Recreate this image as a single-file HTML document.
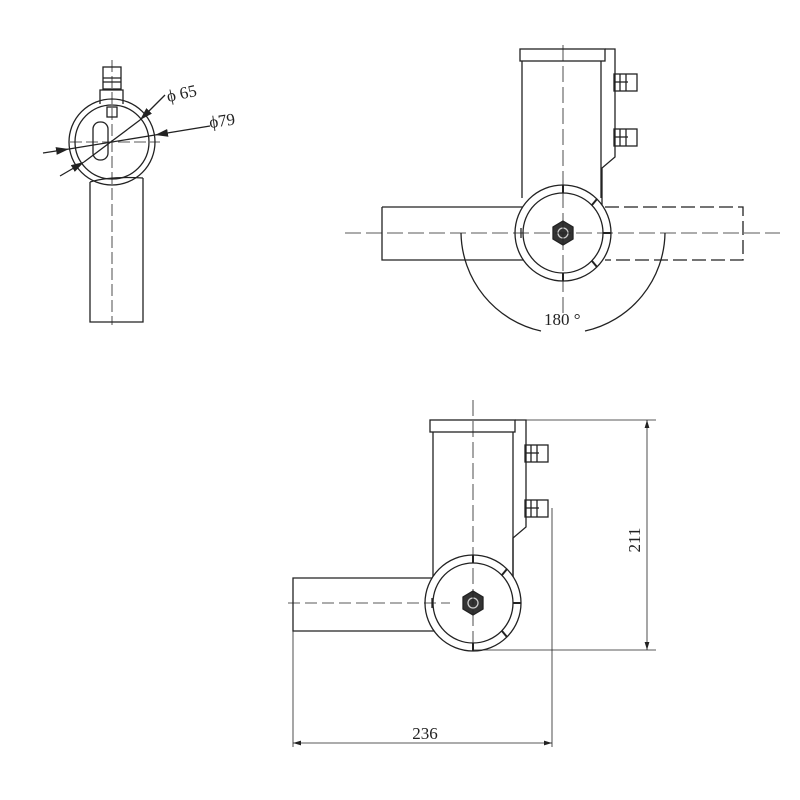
<!DOCTYPE html>
<html><head><meta charset="utf-8"><style>body{margin:0;background:#fff}svg{display:block}</style></head><body>
<svg width="800" height="800" viewBox="0 0 800 800" xmlns="http://www.w3.org/2000/svg" font-family="Liberation Serif, serif" fill="none" stroke="#222" stroke-width="1.3">
<defs><marker id="a" markerWidth="10" markerHeight="6" refX="10" refY="3" orient="auto-start-reverse"><path d="M0,0 L10,3 L0,6 z" fill="#222" stroke="none"/></marker></defs>
<!-- LEFT VIEW -->
<g>
<rect x="103" y="67" width="18" height="22"/><line x1="103" y1="78" x2="121" y2="78"/><line x1="103" y1="82" x2="121" y2="82"/>
<path d="M100,104 L100,90 L123,90 L123,104"/>
<circle cx="112" cy="142" r="43"/><circle cx="112" cy="142" r="37"/>
<rect x="93" y="122" width="15" height="38" rx="7"/>
<rect x="107" y="107" width="10" height="10"/>
<path d="M90,182 L90,322 L143,322 L143,178 M90,182 Q110,176 143,178" />
<line x1="112" y1="60" x2="112" y2="325" stroke-dasharray="12,4" stroke-width="0.8"/>
<line x1="70" y1="142" x2="160" y2="142" stroke-dasharray="12,4" stroke-width="0.8"/>
<line x1="60" y1="176" x2="84" y2="162" marker-end="url(#a)"/>
<line x1="84" y1="162" x2="140" y2="120" />
<line x1="165" y1="95" x2="140" y2="120" marker-end="url(#a)"/>
<line x1="43" y1="153" x2="69" y2="149" marker-end="url(#a)"/>
<line x1="69" y1="149" x2="155" y2="135"/>
<line x1="210" y1="126" x2="155" y2="135" marker-end="url(#a)"/>
<text x="168" y="102" font-size="17" fill="#222" stroke="none" transform="rotate(-12 168 102)">ϕ 65</text>
<text x="210" y="128" font-size="17" fill="#222" stroke="none" transform="rotate(-8 210 128)">ϕ79</text>
</g>
<!-- TOP RIGHT VIEW -->
<g>
<rect x="520" y="49" width="85" height="12"/>
<path d="M605,49 L615,49 L615,157 L602,168 L602,207"/>
<line x1="522" y1="61" x2="522" y2="198"/><line x1="601" y1="61" x2="601" y2="198"/>
<rect x="614" y="74" width="23" height="17"/><line x1="620" y1="74" x2="620" y2="91"/><line x1="626" y1="74" x2="626" y2="91"/><line x1="614" y1="82" x2="628" y2="82"/>
<rect x="614" y="129" width="23" height="17"/><line x1="620" y1="129" x2="620" y2="146"/><line x1="626" y1="129" x2="626" y2="146"/><line x1="614" y1="137" x2="628" y2="137"/>
<path d="M382,207 L524,207 M382,207 L382,260 L524,260"/>
<path d="M605,207 L743,207 L743,260 L605,260" stroke-dasharray="14,5"/>
<circle cx="563" cy="233" r="48" fill="#fff"/><circle cx="563" cy="233" r="40"/>
<line x1="563" y1="185" x2="563" y2="193" stroke-width="2"/><line x1="563" y1="273" x2="563" y2="281" stroke-width="2"/>
<line x1="597" y1="199" x2="592" y2="205" stroke-width="2"/><line x1="597" y1="267" x2="592" y2="261" stroke-width="2"/>
<line x1="603" y1="233" x2="611" y2="233" stroke-width="2"/>
<path d="M521,228 L521,238"/>
<polygon points="563,221 573,227 573,239 563,245 553,239 553,227" fill="#333"/><circle cx="563" cy="233" r="5" stroke="#ccc"/>
<line x1="345" y1="233" x2="780" y2="233" stroke-dasharray="16,5" stroke-width="0.8"/>
<line x1="563" y1="45" x2="563" y2="318" stroke-dasharray="16,5" stroke-width="0.8"/>
<path d="M461,233 A102,102 0 0 0 541,331 M585,331 A102,102 0 0 0 665,233"/>
<text x="544" y="325" font-size="17" fill="#222" stroke="none">180 °</text>
</g>
<!-- BOTTOM VIEW -->
<g>
<rect x="430" y="420" width="85" height="12"/>
<path d="M515,420 L526,420 L526,527 L513,538 L513,577"/>
<line x1="433" y1="432" x2="433" y2="577"/><line x1="513" y1="432" x2="513" y2="577"/>
<rect x="525" y="445" width="23" height="17"/><line x1="531" y1="445" x2="531" y2="462"/><line x1="537" y1="445" x2="537" y2="462"/><line x1="525" y1="453" x2="539" y2="453"/>
<rect x="525" y="500" width="23" height="17"/><line x1="531" y1="500" x2="531" y2="517"/><line x1="537" y1="500" x2="537" y2="517"/><line x1="525" y1="508" x2="539" y2="508"/>
<path d="M434,578 L293,578 L293,631 L434,631"/>
<circle cx="473" cy="603" r="48" fill="#fff"/><circle cx="473" cy="603" r="40"/>
<line x1="473" y1="555" x2="473" y2="563" stroke-width="2"/><line x1="473" y1="643" x2="473" y2="651" stroke-width="2"/>
<line x1="507" y1="569" x2="502" y2="575" stroke-width="2"/><line x1="507" y1="637" x2="502" y2="631" stroke-width="2"/>
<line x1="513" y1="603" x2="521" y2="603" stroke-width="2"/>
<path d="M432,598 L432,608"/>
<polygon points="473,591 483,597 483,609 473,615 463,609 463,597" fill="#333"/><circle cx="473" cy="603" r="5" stroke="#ccc"/>
<line x1="473" y1="400" x2="473" y2="645" stroke-dasharray="16,5" stroke-width="0.8"/>
<line x1="288" y1="603" x2="450" y2="603" stroke-dasharray="12,5" stroke-width="0.8"/>
<line x1="526" y1="420" x2="656" y2="420" stroke-width="0.8"/>
<line x1="473" y1="650" x2="656" y2="650" stroke-width="0.8"/>
<line x1="647" y1="420" x2="647" y2="650" marker-start="url(#a)" marker-end="url(#a)" stroke-width="0.8"/>
<text x="640" y="540" font-size="17" fill="#222" stroke="none" text-anchor="middle" transform="rotate(-90 640 540)">211</text>
<line x1="293" y1="631" x2="293" y2="747" stroke-width="0.8"/>
<line x1="552" y1="508" x2="552" y2="747" stroke-width="0.8"/>
<line x1="293" y1="743" x2="552" y2="743" marker-start="url(#a)" marker-end="url(#a)" stroke-width="0.8"/>
<text x="425" y="739" font-size="17" fill="#222" stroke="none" text-anchor="middle">236</text>
</g>
</svg>
</body></html>
